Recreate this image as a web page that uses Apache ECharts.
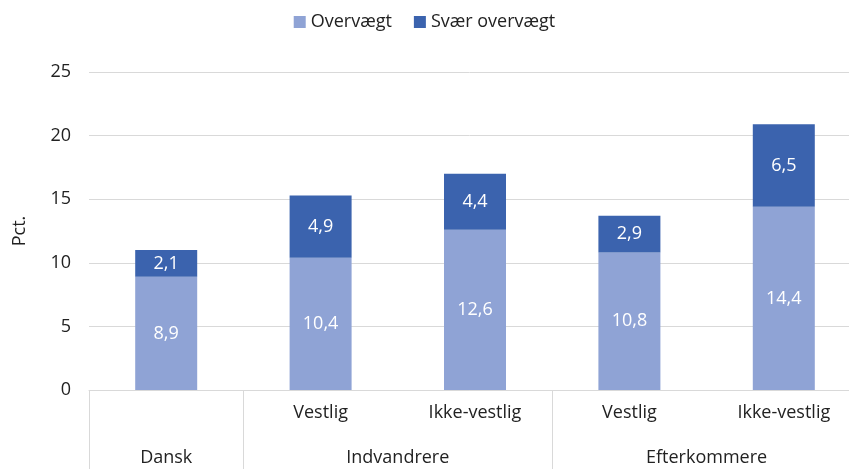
<!DOCTYPE html>
<html>
<head>
<meta charset="utf-8">
<script src="https://cdn.jsdelivr.net/npm/echarts@6/dist/echarts.min.js"></script>
<style>
  html, body { margin: 0; padding: 0; background: #fff; }
  #chart { width: 849px; height: 469px; }
</style>
</head>
<body>
<div id="chart"></div>
<script>
const subCategories = ["", "Vestlig", "Ikke-vestlig", "Vestlig", "Ikke-vestlig"];
const groupLabels = ["Dansk", "Indvandrere", "Efterkommere"];
const groupCenters = [0.5, 2, 4];
const groupBounds = [0, 1, 3, 5];
const overvaegt = [8.9, 10.4, 12.6, 10.8, 14.4];
const svaerOvervaegt = [2.1, 4.9, 4.4, 2.9, 6.5];

const font = "'Open Sans', 'Noto Sans', sans-serif";
const fs = 18;
const fmt = (p) => String(p.value).replace(".", ",");

const chart = echarts.init(document.getElementById("chart"));

chart.setOption({
  animation: false,
  textStyle: { fontFamily: font },
  legend: {
    top: 8,
    left: "center",
    itemWidth: 12,
    itemHeight: 12,
    itemGap: 22,
    icon: "rect",
    textStyle: { fontSize: fs, color: "#222", fontFamily: font },
    data: ["Overvægt", "Svær overvægt"],
  },
  grid: {
    left: 89,
    width: 772,
    top: 72,
    bottom: 79,
    containLabel: false,
    outerBoundsMode: "none",
  },
  xAxis: [
    {
      type: "category",
      data: subCategories,
      axisLine: { lineStyle: { color: "#d9d9d9" } },
      axisTick: { show: false },
      axisLabel: { fontSize: fs, color: "#222", margin: 14, fontFamily: font },
    },
    {
      type: "value",
      min: 0,
      max: 5,
      position: "bottom",
      axisLine: { show: false },
      splitLine: { show: false },
      axisTick: {
        show: true,
        customValues: groupBounds,
        length: 80,
        lineStyle: { color: "#d9d9d9" },
      },
      axisLabel: {
        customValues: groupCenters,
        formatter: (v) => groupLabels[groupCenters.indexOf(v)],
        fontSize: fs,
        color: "#222",
        margin: 59,
        fontFamily: font,
      },
    },
  ],
  yAxis: {
    type: "value",
    min: 0,
    max: 25,
    interval: 5,
    name: "Pct.",
    nameLocation: "middle",
    nameGap: 60,
    nameTextStyle: { fontSize: fs, color: "#222", fontFamily: font },
    axisLine: { show: false },
    axisTick: { show: false },
    axisLabel: { fontSize: fs, color: "#222", margin: 18, fontFamily: font },
    splitLine: { lineStyle: { color: "#d9d9d9", width: 1 } },
  },
  series: [
    {
      name: "Overvægt",
      type: "bar",
      stack: "total",
      barWidth: 62,
      data: overvaegt,
      itemStyle: { color: "#8FA3D5" },
      label: {
        show: true,
        position: "inside",
        color: "#fff",
        fontSize: fs,
        fontFamily: font,
        formatter: fmt,
      },
    },
    {
      name: "Svær overvægt",
      type: "bar",
      stack: "total",
      barWidth: 62,
      data: svaerOvervaegt,
      itemStyle: { color: "#3B63AE" },
      label: {
        show: true,
        position: "inside",
        color: "#fff",
        fontSize: fs,
        fontFamily: font,
        formatter: fmt,
      },
    },
  ],
});
</script>
</body>
</html>
